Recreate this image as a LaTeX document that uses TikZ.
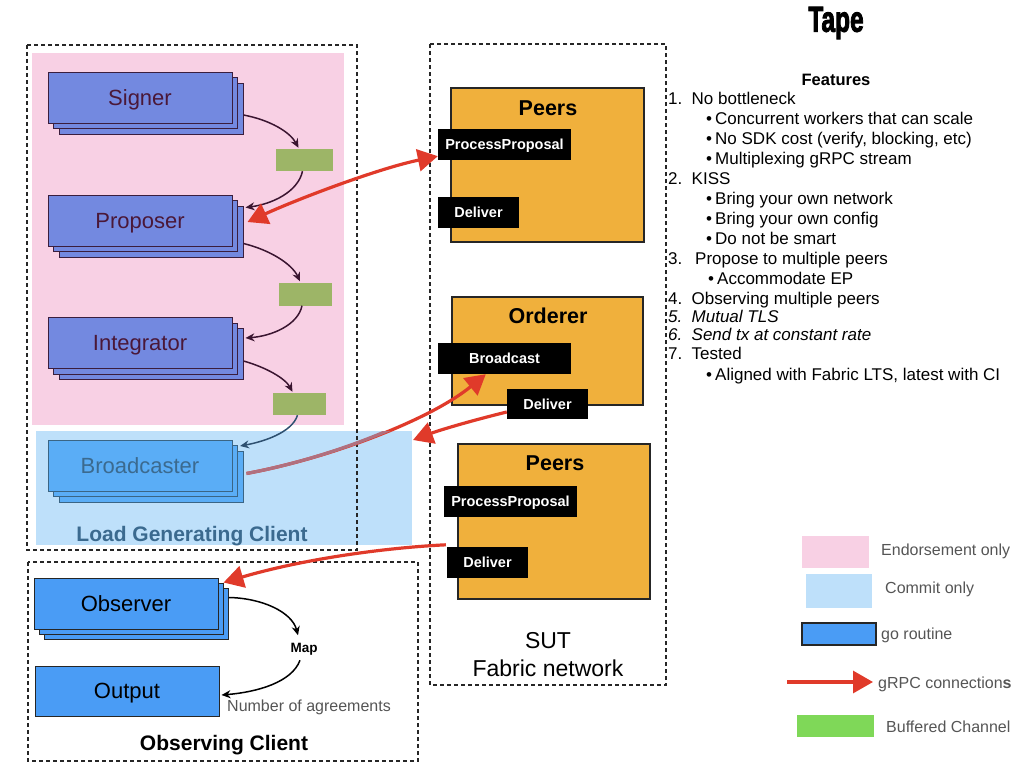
\documentclass[tikz,border=0pt]{standalone}
\usepackage{fontspec}
\setmainfont{Liberation Sans}
\newfontfamily\heavyfont{Liberation Sans Bold}[FakeBold=3]
\usetikzlibrary{arrows.meta,calc}
\definecolor{pinkbg}{HTML}{F8D0E4}
\definecolor{bluebg}{HTML}{BEE0FA}
\definecolor{sgfill}{HTML}{7389E0}
\definecolor{sgdraw}{HTML}{3A1E3E}
\definecolor{sgtext}{HTML}{4A1838}
\definecolor{chgreen}{HTML}{9DB567}
\definecolor{orangebox}{HTML}{F0B03C}
\definecolor{gofill}{HTML}{4A9CF5}
\definecolor{bcfill}{HTML}{5AADF6}
\definecolor{bcdraw}{HTML}{3A6585}
\definecolor{bctext}{HTML}{3B6A8F}
\definecolor{grpcred}{HTML}{E03A2A}
\definecolor{grpcmauve}{HTML}{B0707F}
\definecolor{leggreen}{HTML}{7FD858}
\definecolor{greytext}{HTML}{555555}
\definecolor{flowdark}{HTML}{3A1530}
\definecolor{flowblue}{HTML}{2E5070}
\newcommand\fsz[1]{\fontsize{#1}{#1}\selectfont}
\begin{document}
\begin{tikzpicture}[x=1pt,y=-1pt,
 box/.style={draw, inner sep=0pt, line width=1pt, minimum width=184pt, minimum height=51pt, text depth=0pt},
 sgbox/.style={box, fill=sgfill, draw=sgdraw, text=sgtext, font=\fsz{22}},
 bcbox/.style={box, fill=bcfill, draw=bcdraw, text=bctext, font=\fsz{22}},
 gobox/.style={box, fill=gofill, draw=black!85, text=black, font=\fsz{22}},
 chan/.style={fill=chgreen, inner sep=0pt, minimum height=22pt},
 orangebx/.style={draw=black!85, line width=1.5pt, fill=orangebox, inner sep=0pt},
 api/.style={fill=black, text=white, font=\fsz{14.5}\bfseries, inner sep=0pt, minimum height=31pt, text depth=0pt},
 dbox/.style={draw=black!85, line width=1.5pt, dash pattern=on 4pt off 3pt},
 flow/.style={draw=flowdark, line width=1.5pt, -{Stealth[length=9pt,width=8pt]}},
 grpc/.style={draw=grpcred, line width=3.2pt, -{Triangle[length=20pt,width=22pt]}},
 boldlbl/.style={font=\fsz{21.5}\bfseries, anchor=base, inner sep=0pt},
 legtxt/.style={font=\fsz{16}, text=greytext, anchor=base west, inner sep=0pt},
 feat/.style={font=\fsz{17}, anchor=base west, inner sep=0pt}
]
\useasboundingbox (0,0) rectangle (1024,768);

% ---------- region backgrounds ----------
\node[fill=pinkbg, minimum width=312pt, minimum height=372pt, inner sep=0pt] (endorse) at (188,239) {};
\node[fill=bluebg, minimum width=376pt, minimum height=114pt, inner sep=0pt] (commit) at (224,488) {};

% ---------- stacks ----------
\node[sgbox] (sig2) at (151,108.5) {};
\node[sgbox] (sig1) at (145.5,103) {};
\node[sgbox] (sig) at (140,97.5) {Signer};

\node[sgbox] (pro2) at (151,231.5) {};
\node[sgbox] (pro1) at (145.5,226) {};
\node[sgbox] (pro) at (140,220.5) {Proposer};

\node[sgbox] (int2) at (151,354) {};
\node[sgbox] (int1) at (145.5,348.5) {};
\node[sgbox] (int) at (140,343) {Integrator};

\node[bcbox] (bc2) at (151,476.5) {};
\node[bcbox] (bc1) at (145.5,471) {};
\node[bcbox] (bc) at (140,465.5) {Broadcaster};

% ---------- channels ----------
\node[chan, minimum width=57pt] (ch1) at (304.5,160) {};
\node[chan, minimum width=53pt, minimum height=23pt] (ch2) at (305,294) {};
\node[chan, minimum width=53pt] (ch3) at (299.5,404) {};

\draw[flow] ($(sig2.east)+(0,6.5)$) .. controls (270,120) and (290,132) .. ($(ch1.north)+(-6,-1)$);
\draw[flow] ($(ch1.south)+(-2,0)$) .. controls (298,192) and (272,204) .. ($(pro2.north east)+(2,2)$);
\draw[flow] ($(pro2.east)+(0,12)$) .. controls (270,250) and (292,264) .. ($(ch2.north)+(-5,-1)$);
\draw[flow] ($(ch2.south)+(-3,0)$) .. controls (298,325) and (272,336) .. ($(int2.north east)+(2,10)$);
\draw[flow] ($(int2.east)+(0,7)$) .. controls (265,367) and (285,378) .. ($(ch3.north)+(-7,-1)$);
\draw[flow, draw=flowblue] ($(ch3.south)+(-2,0)$) .. controls (292,433) and (262,442) .. ($(bc1.north east)+(2,1)$);

\node[font=\fsz{21}\bfseries, text=bctext, anchor=base, inner sep=0pt] (lgclbl) at (192,541.5) {Load Generating Client};

% ---------- dashed containers ----------
\draw[dbox] (27,45) rectangle (357,550);
\draw[dbox] (430,44) rectangle (666,685);
\draw[dbox] (28,562) rectangle (418,761);

% ---------- observing client ----------
\node[gobox] (ob2) at (136,613.5) {};
\node[gobox] (ob1) at (131,608.5) {};
\node[gobox] (ob) at (126,603.5) {Observer};
\node[gobox, minimum height=50pt] (out) at (127,691) {Output};
\node[font=\fsz{13.5}\bfseries, anchor=base, inner sep=0pt] (map) at (304,652.5) {Map};
\draw[flow, draw=black] ($(ob2.east)+(0,-16)$) .. controls (262,598) and (292,612) .. ($(map)+(-6,-14)$);
\draw[flow, draw=black] ($(map)+(-4,11)$) .. controls (292,682) and (258,692) .. ($(out.east)+(2,4)$);
\node[font=\fsz{16}, text=greytext, anchor=base west, inner sep=0pt] (agree) at (227,711.5) {Number of agreements};
\node[font=\fsz{21}\bfseries, anchor=base, inner sep=0pt] (oclbl) at (224,750) {Observing Client};

% ---------- SUT ----------
\node[orangebx, minimum width=193pt, minimum height=154pt] (peers1) at (547.5,165) {};
\node[boldlbl] (peers1lbl) at (548,115) {Peers};
\node[orangebx, minimum width=191pt, minimum height=108pt] (orderer) at (547.5,351) {};
\node[boldlbl] (ordlbl) at (548,323.3) {Orderer};
\node[orangebx, minimum width=192pt, minimum height=155pt] (peers2) at (554,521.5) {};
\node[boldlbl] (peers2lbl) at (555,470) {Peers};

\node[api, minimum width=133pt] (pp1) at (504.5,144.5) {ProcessProposal};
\node[api, minimum width=81pt] (del1) at (478.5,212.5) {Deliver};
\node[api, minimum width=133pt] (bcast) at (504.5,358.5) {Broadcast};
\node[api, minimum width=81pt, minimum height=30pt] (odel) at (547.5,404) {Deliver};
\node[api, minimum width=133pt] (pp2) at (510.5,501.5) {ProcessProposal};
\node[api, minimum width=81pt] (del2) at (487.5,562.5) {Deliver};

\node[font=\fsz{23}, anchor=base, inner sep=0pt] (sutlbl) at (548,648) {SUT};
\node[font=\fsz{23}, anchor=base, inner sep=0pt] (fablbl) at (548,676.7) {Fabric network};

% ---------- gRPC connections ----------
\coordinate (lgcin) at (413,440);
\draw[grpc, {Triangle[length=20pt,width=22pt]}-{Triangle[length=20pt,width=22pt]}]
  ($(pro2.east)+(4,-9.5)$) .. controls (300,198) and (380,168) .. ($(pp1.south west)+(0,-4)$);
\draw[grpc] ($(bc2.east)+(3,-3)$) .. controls (330,458) and (430,420) .. ($(bcast.south west)+(48,0)$);
\begin{scope}
  \clip (36,431) rectangle (412,545);
  \draw[grpc, draw=grpcmauve, -] ($(bc2.east)+(3,-3)$) .. controls (330,458) and (430,420) .. ($(bcast.south west)+(48,0)$);
\end{scope}
\draw[grpc] ($(odel.west)+(0,8)$) .. controls (470,421) and (440,430) .. (lgcin);
\draw[grpc] ($(del2.north west)+(-1,-2)$) .. controls (380,548) and (300,560) .. (ob1.north east);

% ---------- title ----------
\node[anchor=base, inner sep=0pt, font=\fsz{36}\heavyfont] (title) at (836,31.7) {\scalebox{0.68}[1]{Tape}};

% ---------- features ----------
\node[font=\fsz{16.5}\bfseries, anchor=base, inner sep=0pt] (feath) at (836,85) {Features};
\node[feat] (f1) at (668,104.3) {\makebox[23.5pt][l]{1.}No bottleneck};
\node[feat] (f1a) at (706,124) {\makebox[9pt][l]{•}Concurrent workers that can scale};
\node[feat] (f1b) at (706,144) {\makebox[9pt][l]{•}No SDK cost (verify, blocking, etc)};
\node[feat] (f1c) at (706,164) {\makebox[9pt][l]{•}Multiplexing gRPC stream};
\node[feat] (f2) at (668,184) {\makebox[23.5pt][l]{2.}KISS};
\node[feat] (f2a) at (706,204) {\makebox[9pt][l]{•}Bring your own network};
\node[feat] (f2b) at (706,224) {\makebox[9pt][l]{•}Bring your own config};
\node[feat] (f2c) at (706,244) {\makebox[9pt][l]{•}Do not be smart};
\node[feat] (f3) at (668,264) {\makebox[27pt][l]{3.}Propose to multiple peers};
\node[feat] (f3a) at (708,284) {\makebox[9pt][l]{•}Accommodate EP};
\node[feat] (f4) at (668,304) {\makebox[23.5pt][l]{4.}Observing multiple peers};
\node[feat] (f5) at (668,322.7) {\itshape\makebox[23.5pt][l]{5.}Mutual TLS};
\node[feat] (f6) at (668,340.7) {\itshape\makebox[23.5pt][l]{6.}Send tx at constant rate};
\node[feat] (f7) at (668,359.3) {\makebox[23.5pt][l]{7.}Tested};
\node[feat] (f7a) at (706,380) {\makebox[9pt][l]{•}Aligned with Fabric LTS, latest with CI};

% ---------- legend ----------
\node[fill=pinkbg, minimum width=67pt, minimum height=32pt, inner sep=0pt] (lgpink) at (835.5,552) {};
\node[legtxt] (lgpinkt) at (881,555) {Endorsement only};
\node[fill=bluebg, minimum width=66pt, minimum height=34pt, inner sep=0pt] (lgblue) at (839,591) {};
\node[legtxt] (lgbluet) at (885,593) {Commit only};
\node[fill=gofill, draw=black!85, line width=1.2pt, minimum width=74pt, minimum height=22pt, inner sep=0pt] (lggo) at (839,634) {};
\node[legtxt] (lggot) at (881,639) {go routine};
\coordinate (lga) at (787,682);
\coordinate (lgb) at (873,682);
\draw[grpc] (lga) -- (lgb);
\node[legtxt] (lgarrt) at (878,688) {gRPC connection\textbf{s}};
\node[fill=leggreen, minimum width=77pt, minimum height=22pt, inner sep=0pt] (lggreen) at (835.5,726) {};
\node[legtxt] (lggreent) at (886,732) {Buffered Channel};
\end{tikzpicture}
\end{document}
